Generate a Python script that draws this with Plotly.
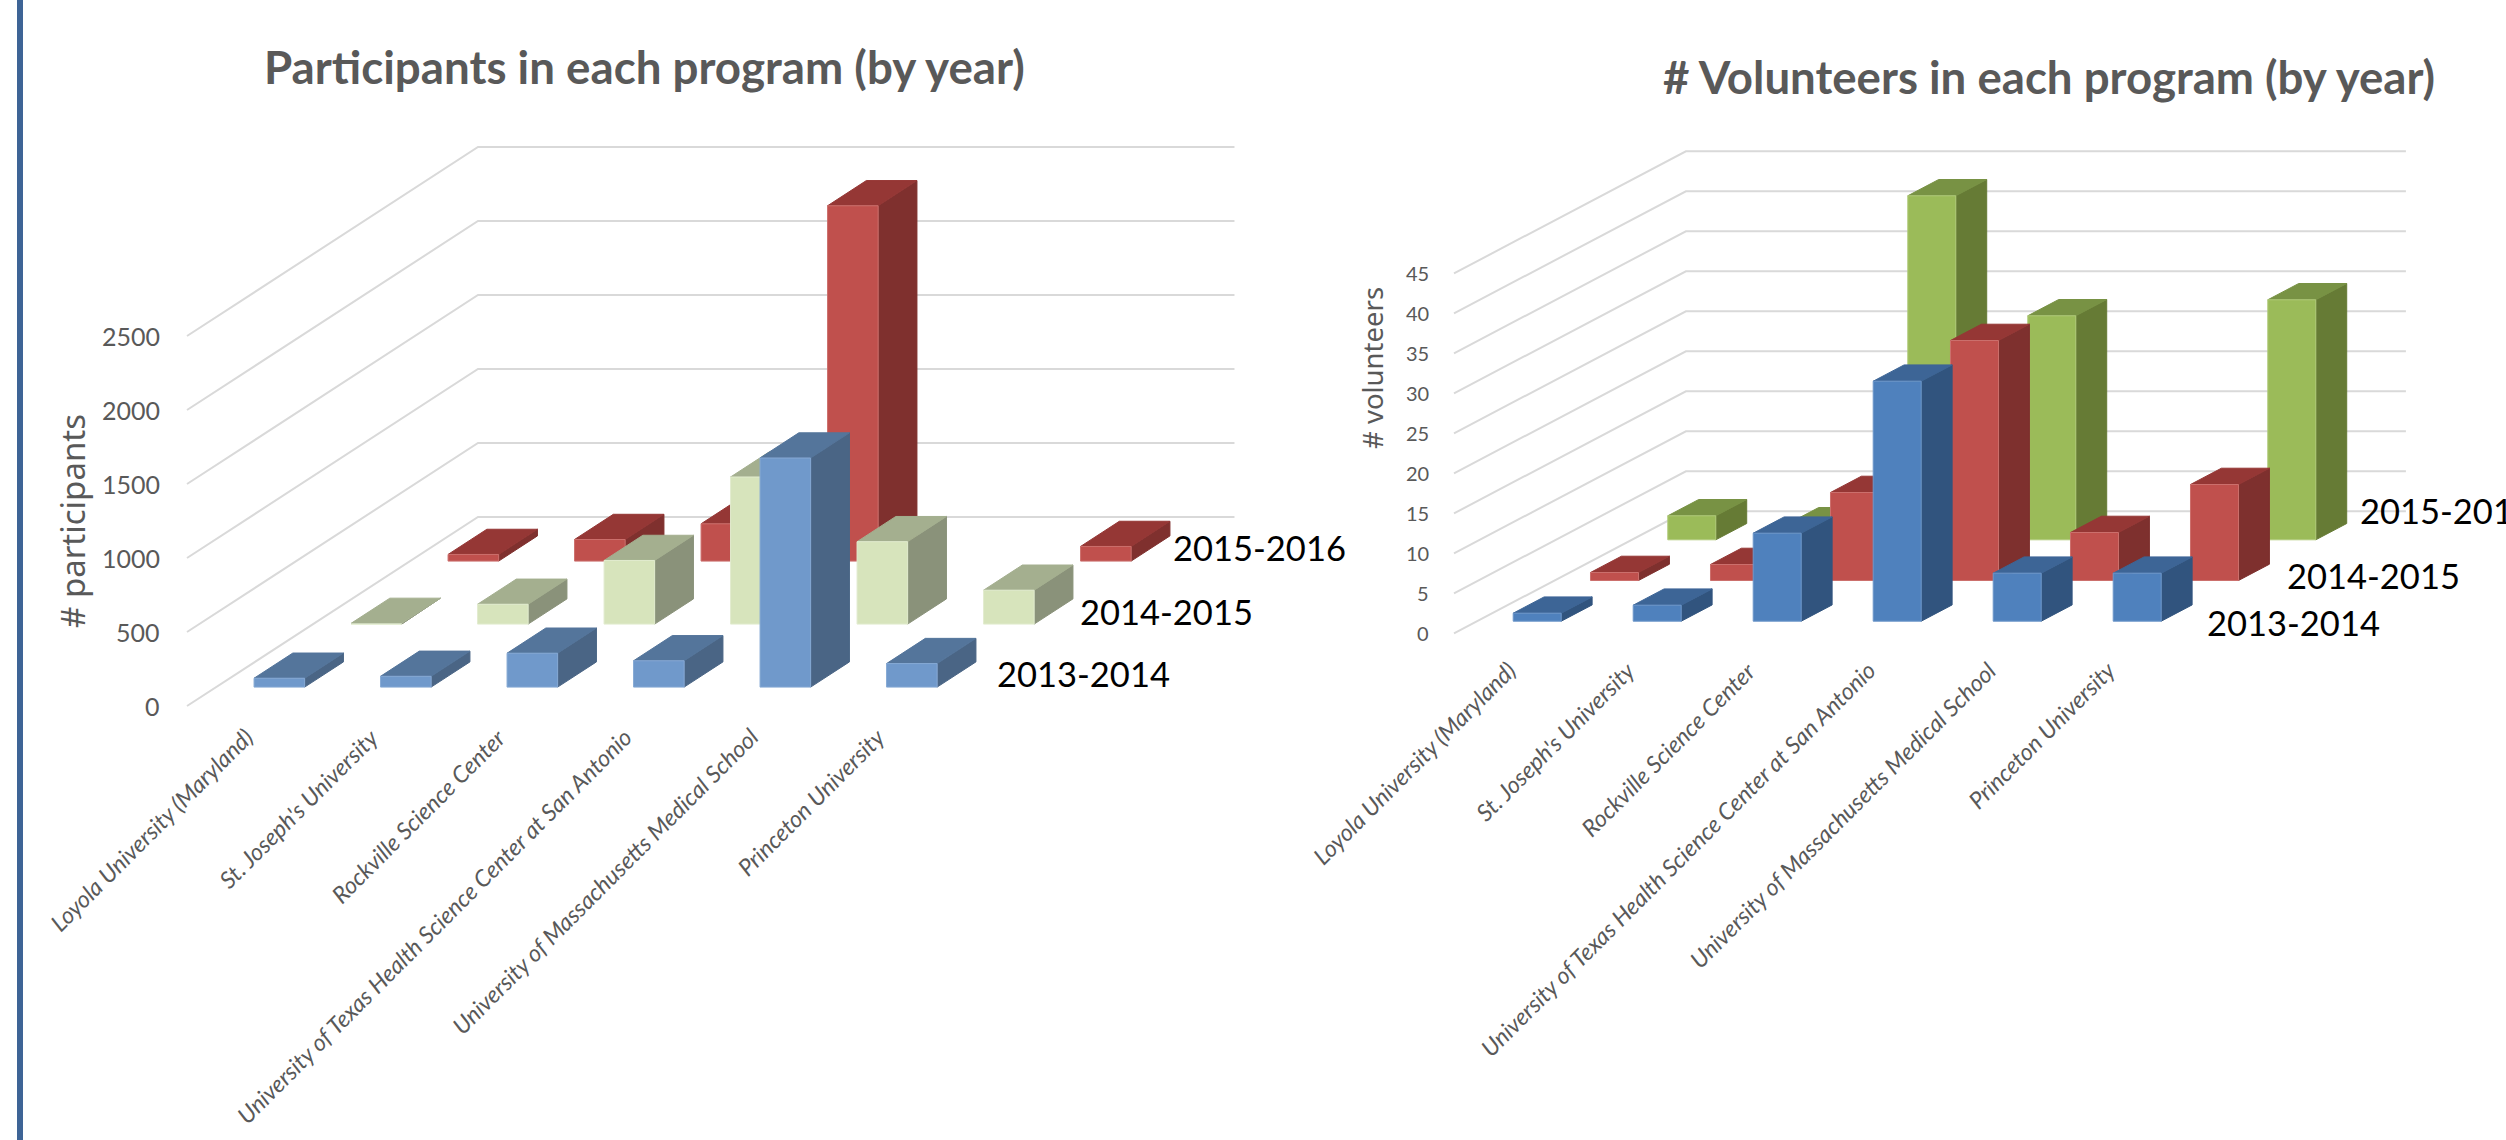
import plotly.graph_objects as go

W, H = 2506, 1140

categories = ["Loyola University (Maryland)", "St. Joseph's University", "Rockville Science Center",
              "University of Texas Health Science Center at San Antonio",
              "University of Massachusetts Medical School", "Princeton University"]
series_names = ["2013-2014", "2014-2015", "2015-2016"]

participants_2013 = [60, 73, 229, 178, 1548, 159]
participants_2014 = [5, 134, 430, 994, 557, 229]
participants_2015 = [45, 146, 252, 2401, None, 99]
participants_ticks = [0, 500, 1000, 1500, 2000, 2500]

volunteers_2013 = [1, 2, 11, 30, 6, 6]
volunteers_2014 = [1, 2, 11, 30, 6, 12]
volunteers_2015 = [3, 2, 43, 28, None, 30]
volunteers_ticks = [0, 5, 10, 15, 20, 25, 30, 35, 40, 45]

LEFT = dict(
    ax="", px0=187, py0=706, cat_px=126.5, row_dx=97, row_dy=63, val_px=74 / 500,
    dom=(0, 1253), back_end=5.98,
    rows=[participants_2013, participants_2014, participants_2015], ticks=participants_ticks,
    colors=[("#7099CB", "#54759B", "#4A6585", "#86A9D4"),
            ("#D7E4BC", "#A4AF8F", "#8A927A", "#E2ECCF"),
            ("#C0504D", "#953735", "#7F302E", "#CC706D")],
    title="Participants in each program (by year)", title_xy=(644, 67), title_size=45.7,
    ytitle="# participants", ytitle_xy=(72, 521), ytitle_size=33,
    tick_size=25, tick_right=162,
    cat_anchor=(0.58, -95), cat_size=23.3,
    label_pos=[(6.0, 0.5, 10), (5.89, 1.5, 0), (5.86, 2.5, 10)],
    label_size=34.5,
)
RIGHT = dict(
    ax="2", px0=1454, py0=633.4, cat_px=120, row_dx=77.3, row_dy=40.7, val_px=8.0,
    dom=(1253, 2506), back_end=6.0,
    rows=[volunteers_2013, volunteers_2014, volunteers_2015], ticks=volunteers_ticks,
    colors=[("#4F81BD", "#3D6596", "#31547E", "#6D97CA"),
            ("#C0504D", "#953735", "#7E302E", "#CC706D"),
            ("#9BBB59", "#789244", "#667B35", "#B0CB7A")],
    title="# Volunteers in each program (by year)", title_xy=(2049, 77), title_size=45.6,
    ytitle="# volunteers", ytitle_xy=(1372, 368), ytitle_size=27.5,
    tick_size=20, tick_right=1431,
    cat_anchor=(0.58, -2.5), cat_size=23.3,
    label_pos=[(5.94, 0.5, -1.2), (5.96, 1.5, -0.4), (5.92, 2.5, 2.6)],
    label_size=34.5,
)

fig = go.Figure()
annotations = []
GRID = "#D9D9D9"
TEXT = "#595959"


def draw(c):
    kx = c["row_dx"] / c["cat_px"]
    ky = c["row_dy"] / c["val_px"]
    xa, ya = "x" + c["ax"], "y" + c["ax"]

    def proj(cat, depth, value):
        return cat + depth * kx, value + depth * ky

    def poly(pts, fill, line):
        xs, ys = zip(*[proj(*p) for p in pts + pts[:1]])
        fig.add_trace(go.Scatter(x=xs, y=ys, mode="lines", fill="toself", fillcolor=fill,
                                 line=dict(color=line, width=1), hoverinfo="skip",
                                 showlegend=False, xaxis=xa, yaxis=ya))

    # walls: side and back gridlines
    for t in c["ticks"]:
        xs, ys = zip(proj(0, 0, t), proj(0, 3, t), proj(c["back_end"], 3, t))
        fig.add_trace(go.Scatter(x=xs, y=ys, mode="lines", line=dict(color=GRID, width=2),
                                 hoverinfo="skip", showlegend=False, xaxis=xa, yaxis=ya))
        annotations.append(dict(x=0, y=t, xref=xa, yref=ya, text=str(t), showarrow=False,
                                xanchor="right", xshift=c["tick_right"] - c["px0"],
                                font=dict(family="Lato", size=c["tick_size"], color=TEXT)))

    # bars, back row first
    for row in (2, 1, 0):
        face, top, side, edge = c["colors"][row]
        for i, v in enumerate(c["rows"][row]):
            if v is None:
                continue
            c0, c1, d0, d1 = i + 0.3, i + 0.7, row + 0.3, row + 0.7
            poly([(c1, d0, 0), (c1, d1, 0), (c1, d1, v), (c1, d0, v)], side, side)
            poly([(c0, d0, v), (c1, d0, v), (c1, d1, v), (c0, d1, v)], top, top)
            poly([(c0, d0, 0), (c1, d0, 0), (c1, d0, v), (c0, d0, v)], face, edge)

    # category labels
    for i, name in enumerate(categories):
        annotations.append(dict(x=i + c["cat_anchor"][0], y=c["cat_anchor"][1], xref=xa, yref=ya,
                                text="<i>%s</i>" % name, showarrow=False, textangle=-45,
                                xanchor="right", yanchor="top",
                                font=dict(family="Lato", size=c["cat_size"], color=TEXT)))

    # series labels
    for name, (cat, depth, val) in zip(series_names, c["label_pos"]):
        x, y = proj(cat, depth, val)
        annotations.append(dict(x=x, y=y, xref=xa, yref=ya, text=name, showarrow=False,
                                xanchor="left", font=dict(family="Lato", size=c["label_size"], color="#000000")))

    annotations.append(dict(x=c["title_xy"][0] / W, y=1 - c["title_xy"][1] / H, xref="paper", yref="paper",
                            xanchor="center", yanchor="middle",
                            text="<b>%s</b>" % c["title"], showarrow=False,
                            font=dict(family="Lato", size=c["title_size"], color=TEXT)))
    annotations.append(dict(x=c["ytitle_xy"][0] / W, y=1 - c["ytitle_xy"][1] / H, xref="paper", yref="paper",
                            xanchor="center", yanchor="middle",
                            text=c["ytitle"], showarrow=False, textangle=-90,
                            font=dict(family="Noto Sans", size=c["ytitle_size"], color=TEXT)))


def axis_ranges(c):
    a, b = c["dom"]
    xr = [(a - c["px0"]) / c["cat_px"], (b - c["px0"]) / c["cat_px"]]
    yr = [(c["py0"] - H) / c["val_px"], c["py0"] / c["val_px"]]
    return dict(domain=[a / W, b / W], range=xr, visible=False, fixedrange=True), \
        dict(domain=[0, 1], range=yr, visible=False, fixedrange=True)


draw(LEFT)
draw(RIGHT)
xl, yl = axis_ranges(LEFT)
xr, yr = axis_ranges(RIGHT)
xr["anchor"] = "y2"
yr["anchor"] = "x2"

fig.update_layout(
    width=W, height=H, autosize=False,
    margin=dict(l=0, r=0, t=0, b=0), paper_bgcolor="#FFFFFF", plot_bgcolor="#FFFFFF",
    xaxis=xl, yaxis=yl, xaxis2=xr, yaxis2=yr,
    annotations=annotations,
    shapes=[dict(type="rect", xref="paper", yref="paper", x0=17 / W, x1=23 / W, y0=0, y1=1,
                 fillcolor="#3E6496", line=dict(width=0))],
)

fig.write_html("out.html", post_script="document.body.style.margin='0';document.body.style.overflow='hidden';",
               config=dict(displayModeBar=False))
